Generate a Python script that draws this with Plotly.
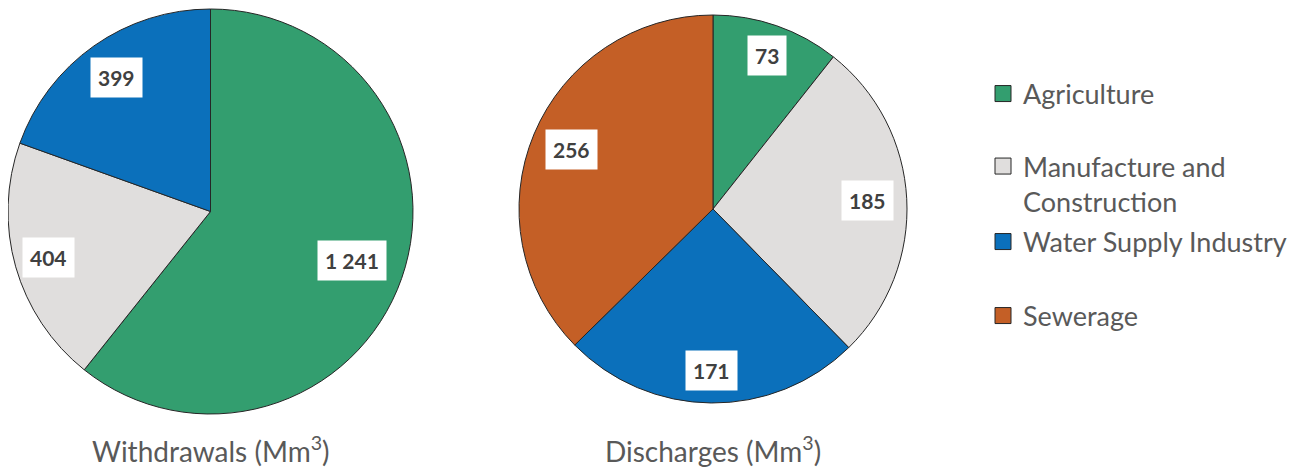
import math
import plotly.graph_objects as go

# ---- data ----
categories = ["Agriculture", "Manufacture and Construction", "Water Supply Industry", "Sewerage"]
legend_labels = ["Agriculture", "Manufacture and<br>Construction", "Water Supply Industry", "Sewerage"]
withdrawal_labels = ["Agriculture", "Manufacture and Construction", "Water Supply Industry"]
withdrawal_values = [1241, 404, 399]
discharge_labels = ["Agriculture", "Manufacture and Construction", "Water Supply Industry", "Sewerage"]
discharge_values = [73, 185, 171, 256]
titles = ["Withdrawals (Mm<sup>3</sup>)", "Discharges (Mm<sup>3</sup>)"]

# ---- styles ----
OFF = 8                      # page body margin of the html page
W, H = 1306 - OFF, 467 - OFF  # figure size
colors = {
    "Agriculture": "#339E6F",
    "Manufacture and Construction": "#E0DEDD",
    "Water Supply Industry": "#0B70BB",
    "Sewerage": "#C45F26",
}
FONT = "Lato"
TEXT_GREY = "#595959"
LABEL_DARK = "#404040"
EDGE = "#262626"

# pie geometry in page pixels (center x, center y from top, radius)
pies = [
    dict(cx=210.5, cy=211.5, r=202.5, labels=withdrawal_labels, values=withdrawal_values,
         lab_r=[0.74, 0.83, 0.81]),
    dict(cx=713, cy=209, r=194, labels=discharge_labels, values=discharge_values,
         lab_r=[0.84, 0.80, 0.835, 0.79]),
]
title_y_px = 449


def clamp(v):
    return min(1.0, max(0.0, v))


def fx(px):
    return (px - OFF) / W


def fy(py):
    return (H - (py - OFF)) / H


fig = go.Figure()
annotations = []
for i, p in enumerate(pies):
    fig.add_trace(go.Pie(
        labels=p["labels"], values=p["values"],
        marker=dict(colors=[colors[l] for l in p["labels"]], line=dict(color=EDGE, width=1)),
        sort=False, direction="clockwise", rotation=0,
        textinfo="none", hoverinfo="label+value",
        domain=dict(x=[clamp(fx(p["cx"] - p["r"])), clamp(fx(p["cx"] + p["r"]))],
                    y=[clamp(fy(p["cy"] + p["r"])), clamp(fy(p["cy"] - p["r"]))]),
        showlegend=False,
    ))
    total = sum(p["values"])
    cum = 0
    for v, fr in zip(p["values"], p["lab_r"]):
        mid = (cum + v / 2) / total * 2 * math.pi
        cum += v
        px = p["cx"] + fr * p["r"] * math.sin(mid)
        py = p["cy"] - fr * p["r"] * math.cos(mid)
        annotations.append(dict(
            x=fx(px), y=fy(py), xref="paper", yref="paper",
            text=f"{v:,}".replace(",", " "), showarrow=False,
            font=dict(family=FONT, size=21, color=LABEL_DARK, weight="bold"),
            bgcolor="white", borderpad=7, xanchor="center", yanchor="middle",
        ))
    annotations.append(dict(
        x=fx(p["cx"]), y=fy(title_y_px), xref="paper", yref="paper",
        text=titles[i], showarrow=False,
        font=dict(family=FONT, size=28, color=TEXT_GREY),
        xanchor="center", yanchor="middle",
    ))

# legend entries (one legend per entry to reproduce the spacing)
legend_names = ["legend", "legend2", "legend3", "legend4"]
legend_y_px = [94, 168, 242, 316]
legend_x_px = 983
LEG_SIZE = 27
layout_legends = {}
for cat, lab, lg, ly in zip(categories, legend_labels, legend_names, legend_y_px):
    fig.add_trace(go.Scatter(
        x=[None], y=[None], mode="markers", name=lab,
        marker=dict(symbol="square", size=16, color=colors[cat], line=dict(color=EDGE, width=1)),
        legend=lg, showlegend=True, hoverinfo="skip",
    ))
    multi = "<br>" in lab
    layout_legends[lg] = dict(
        x=fx(legend_x_px), xanchor="left",
        y=fy(ly - 26) if multi else fy(ly), yanchor="top" if multi else "middle",
        font=dict(family=FONT, size=LEG_SIZE, color=TEXT_GREY),
        bgcolor="rgba(0,0,0,0)", valign="top", itemsizing="trace",
    )

fig.update_layout(
    width=W, height=H,
    margin=dict(l=0, r=0, t=0, b=0),
    paper_bgcolor="white", plot_bgcolor="white",
    xaxis=dict(visible=False), yaxis=dict(visible=False),
    annotations=annotations,
    **layout_legends,
)

fig.write_html("out.html")
